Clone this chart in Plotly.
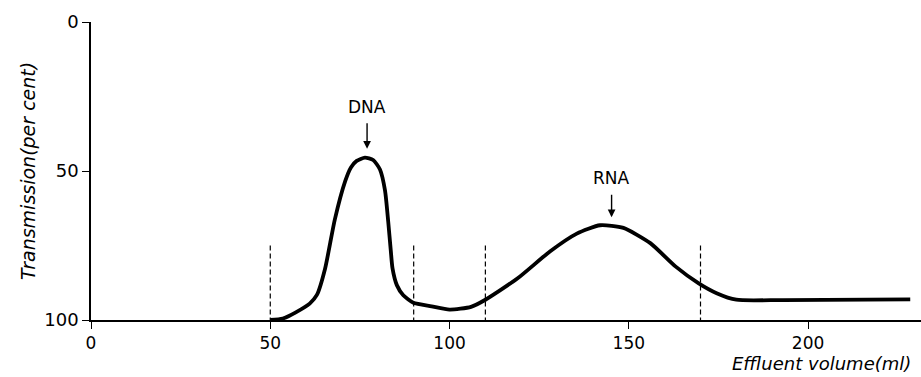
import plotly.graph_objects as go

# Data
volume_ml = [50, 53.5, 57, 61, 63, 65.3, 68, 70.9, 72.5, 74.1, 76.4, 78.7, 80.6, 82, 82.9, 83.6,
             84.1, 85.3, 87.1, 89.9, 95, 100, 106, 110, 119, 128, 135.5, 142, 148.5, 156, 163,
             169.5, 174.5, 180, 193, 228.5]
transmission = [100, 99.5, 97.5, 94.5, 91.6, 82.7, 66.3, 53.4, 48.8, 46.6, 45.5, 46.3, 49.5, 56.5, 67,
                76.5, 82.7, 88.3, 91.7, 94.2, 95.4, 96.5, 95.6, 93.2, 86, 77, 71, 68.2, 69.1, 74.2,
                82, 87.7, 91, 93.2, 93.3, 93.1]

fraction_cuts = [50, 90, 110, 170]
cut_top = 75

peak_names = ["DNA", "RNA"]
peak_volume = [77, 145.2]
peak_tip = [42.5, 65.5]
peak_tail = [33.5, 57.5]

x_ticks = [0, 50, 100, 150, 200]
y_ticks = [0, 50, 100]

FONT = "DejaVu Sans"

fig = go.Figure()

for c in fraction_cuts:
    fig.add_trace(go.Scatter(x=[c, c], y=[cut_top, 100], mode="lines",
                             line=dict(color="black", width=1.2, dash="5px,3px"),
                             showlegend=False, hoverinfo="skip"))

fig.add_trace(go.Scatter(x=volume_ml, y=transmission, mode="lines",
                         line=dict(color="black", width=3.8, shape="spline", smoothing=0.6),
                         showlegend=False))

for name, xv, tip, tail in zip(peak_names, peak_volume, peak_tip, peak_tail):
    fig.add_annotation(x=xv, y=tip, ax=xv, ay=tail, axref="x", ayref="y",
                       showarrow=True, arrowhead=2, arrowsize=1.1, arrowwidth=1.4,
                       arrowcolor="black", text="")
    fig.add_annotation(x=xv, y=tail, yshift=3, text=name, showarrow=False,
                       yanchor="bottom", font=dict(family=FONT, size=17, color="black"))

fig.add_annotation(xref="paper", yref="paper", x=-0.076, y=0.5, text="<i>Transmission(per cent)</i>",
                   textangle=-90, showarrow=False, xanchor="center", yanchor="middle",
                   font=dict(family=FONT, size=19, color="black"))
fig.add_annotation(xref="paper", yref="paper", x=0.99, y=-0.147, text="<i>Effluent volume(ml)</i>",
                   showarrow=False, xanchor="right", yanchor="middle",
                   font=dict(family=FONT, size=18, color="black"))

fig.update_layout(
    width=921, height=377,
    margin=dict(l=91, r=0, t=22, b=57),
    paper_bgcolor="white", plot_bgcolor="white",
    font=dict(family=FONT, size=18, color="black"),
)
fig.update_xaxes(range=[0, 231.5], tickvals=x_ticks, ticks="outside", ticklen=7, tickwidth=1.3,
                 tickcolor="black", showline=True, linecolor="black", linewidth=1.5,
                 showgrid=False, zeroline=False, automargin=False,
                 tickfont=dict(family=FONT, size=17))
fig.update_yaxes(range=[100, 0], tickvals=y_ticks, ticks="outside", ticklen=7, tickwidth=1.3,
                 tickcolor="black", showline=True, linecolor="black", linewidth=1.5,
                 showgrid=False, zeroline=False, automargin=False,
                 tickfont=dict(family=FONT, size=18))

fig.write_html("out.html", config={"displayModeBar": False},
               post_script="document.body.style.margin='0';document.body.style.overflow='hidden';")
